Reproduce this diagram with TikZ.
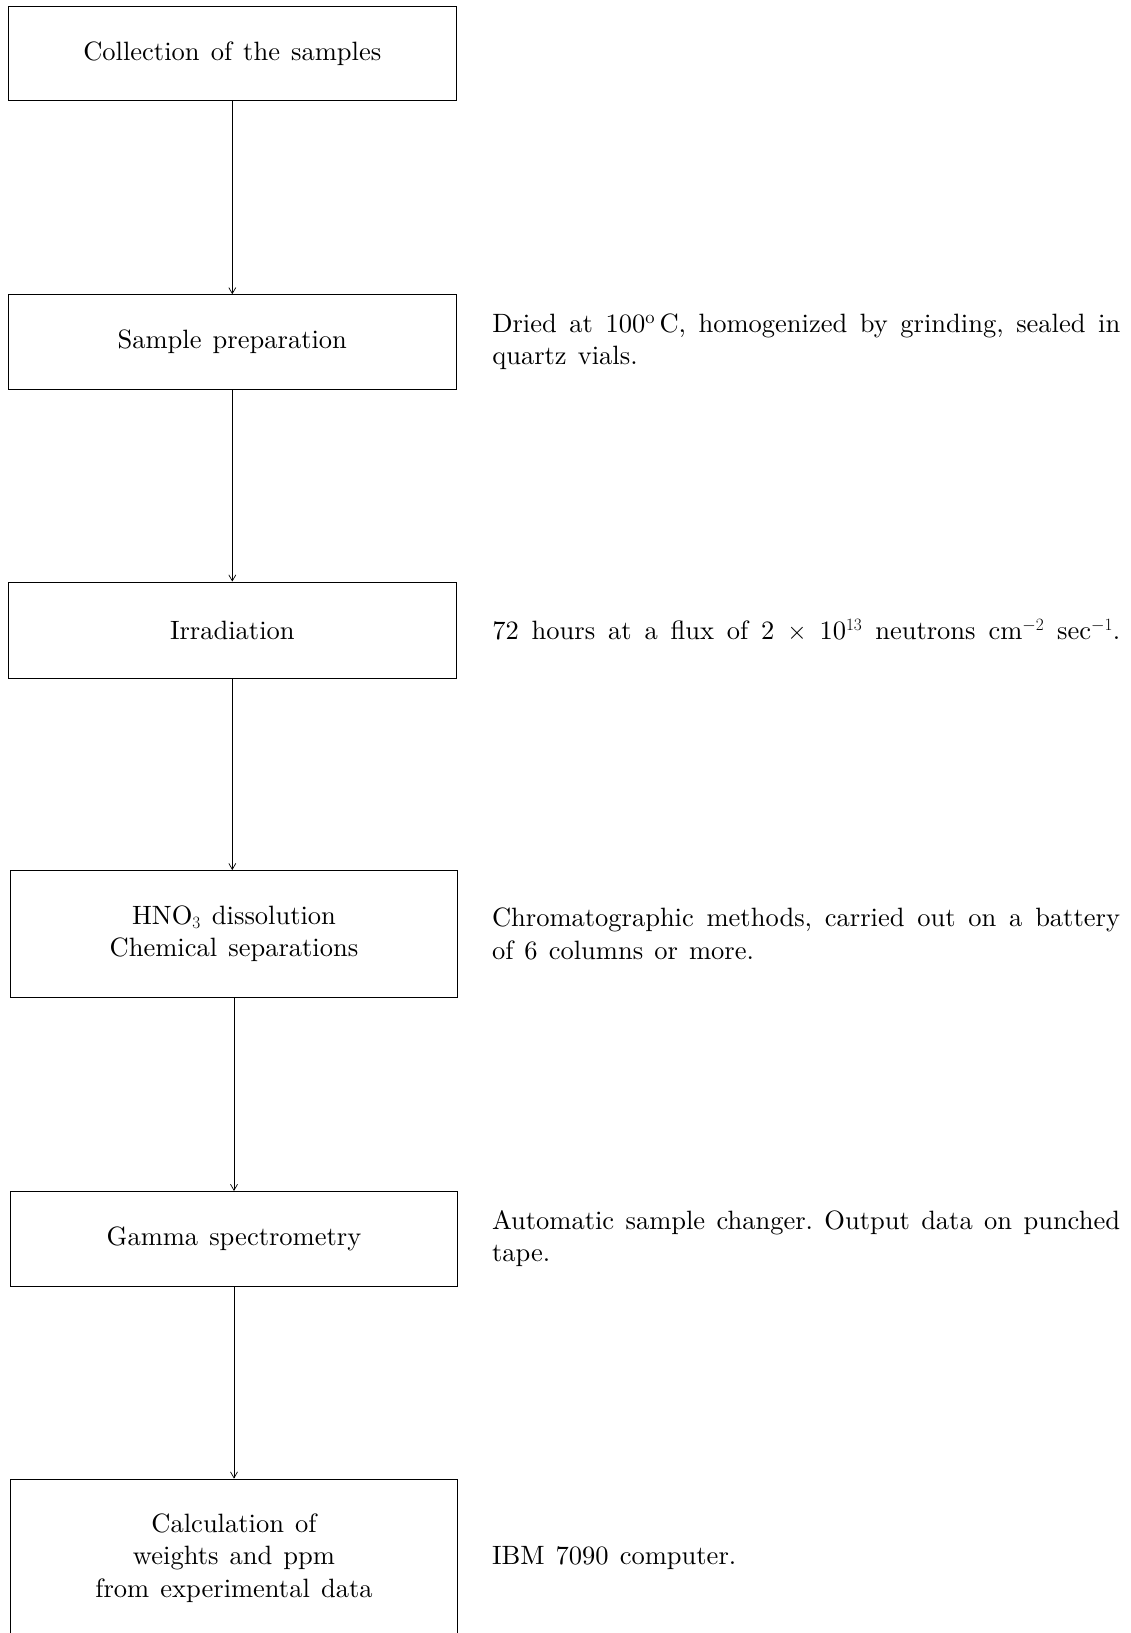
\documentclass[tikz,border=0pt]{standalone}
\usepackage{fontspec}
\setmainfont{lmroman10-regular}[Extension=.otf]
\usetikzlibrary{arrows.meta}
\frenchspacing
\hyphenpenalty=10000
\newcommand{\diagfont}{\fontsize{26.5}{32.3}\selectfont\spaceskip=0.42em plus 0.4em minus 0.05em\relax}
\newcommand{\widespaces}{\spaceskip=0.5em plus 0.4em minus 0.05em\relax}
\begin{document}
\begin{tikzpicture}[x=1pt,y=-1pt,
  txt/.style={font=\diagfont},
  stage/.style={txt, draw, line width=0.9pt, minimum width=447.7pt, align=center, inner sep=0pt},
  note/.style={txt, anchor=west, text width=628pt, align=justify, inner sep=0pt},
  arr/.style={line width=0.7pt, -{Straight Barb[length=6pt,width=7pt]}}
]
\clip (0,0) rectangle (1131,1633);
\useasboundingbox (0,0) rectangle (1131,1633);

\node[stage, minimum height=94.7pt] (b1) at (232.3,53.3) {Collection of the samples};
\node[stage, minimum height=94.6pt] (b2) at (232.3,342) {Sample preparation};
\node[stage, minimum height=96pt] (b3) at (232.3,630) {Irradiation};
\node[stage, minimum height=127pt] (b4) at (234,934) {HNO$_3$ dissolution\\Chemical separations};
\node[stage, minimum height=94.6pt] (b5) at (234,1238.7) {Gamma spectrometry};
\node[stage, minimum height=158pt] (b6) at (234,1558) {Calculation of\\weights and ppm\\from experimental data};

\node[note] (n2) at ([xshift=35.5pt]b2.east) {Dried at 100\textsuperscript{o}\,C, homogenized by grinding, sealed in\linebreak quartz vials.};
\node[note] (n3) at ([xshift=35.5pt]b3.east) {\widespaces 72 hours at a flux of 2 $\times$ 10$^{13}$ neutrons cm$^{-2}$ sec$^{-1}$.};
\node[note] (n4) at ([xshift=33.5pt]b4.east) {Chromatographic methods, carried out on a battery\linebreak of 6 columns or more.};
\node[note] (n5) at ([xshift=33.5pt]b5.east) {Automatic sample changer. Output data on punched\linebreak tape.};
\node[note] (n6) at ([xshift=33.5pt]b6.east) {IBM 7090 computer.};

\draw[arr] (b1.south) -- (b2.north);
\draw[arr] (b2.south) -- (b3.north);
\draw[arr] (b3.south) -- (b3.south |- b4.north);
\draw[arr] (b4.south) -- (b5.north);
\draw[arr] (b5.south) -- (b6.north);
\end{tikzpicture}
\end{document}
